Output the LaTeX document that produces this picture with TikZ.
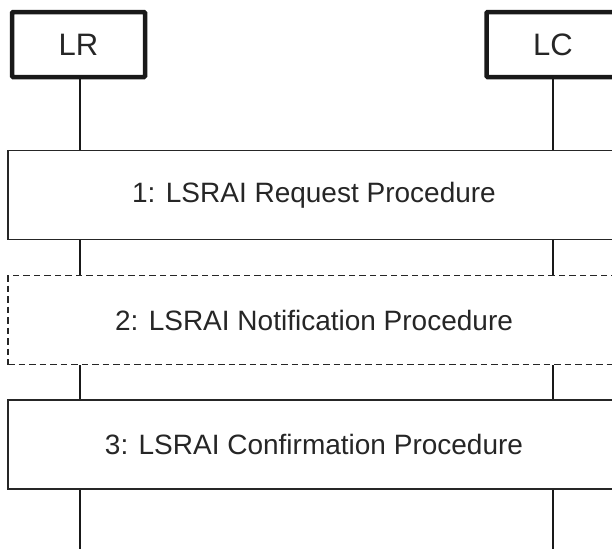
\documentclass[tikz,border=0pt]{standalone}
\usepackage{fontspec}
\setmainfont{Liberation Sans}
\begin{document}
\begin{tikzpicture}[x=1pt,y=1pt,
  entity/.style={draw=black!90, line width=4.5pt, rounded corners=1pt, minimum width=133pt, minimum height=65pt, inner sep=0pt, font=\fontsize{31}{36}\selectfont, text=black!85},
  proc/.style={draw=black!85, line width=1.8pt, minimum width=612pt, minimum height=89pt, inner sep=0pt, font=\fontsize{28}{33}\selectfont, text=black!85},
  optproc/.style={proc, dash pattern=on 6.5pt off 4pt},
  life/.style={draw=black!90, line width=1.8pt}]
\useasboundingbox (0,0) rectangle (612,-549);
\clip (0,0) rectangle (612,-549);
\node[entity] (lr) at (78.5,-44.5) {LR};
\node[entity] (lc) at (553,-44.5) {LC};
\node[proc] (p1) at (314,-195) {1: LSRAI Request Procedure};
\node[optproc] (p2) at (314,-320) {2: LSRAI Notification Procedure};
\node[proc] (p3) at (314,-444.5) {3: LSRAI Confirmation Procedure};
\coordinate (lrend) at (80,-549);
\coordinate (lcend) at (553,-549);
\foreach \e/\x in {lr/80,lc/553}{
  \draw[life] (\x,0 |- \e.south) -- (\x,0 |- p1.north);
  \draw[life] (\x,0 |- p1.south) -- (\x,0 |- p2.north);
  \draw[life] (\x,0 |- p2.south) -- (\x,0 |- p3.north);
  \draw[life] (\x,0 |- p3.south) -- (\e end);
}
\end{tikzpicture}
\end{document}
